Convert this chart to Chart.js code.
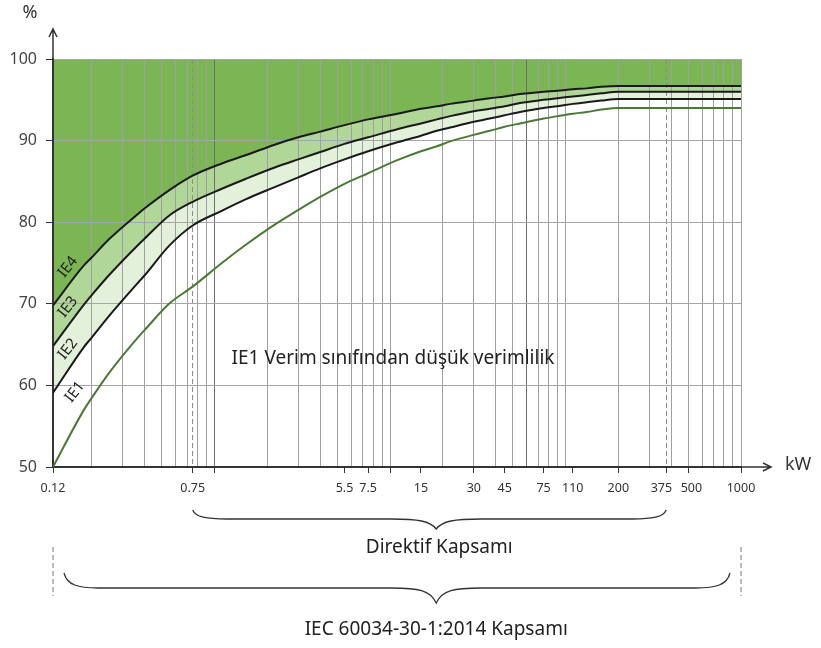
<!DOCTYPE html>
<html>
<head>
<meta charset="utf-8">
<script src="https://cdn.jsdelivr.net/npm/chart.js@4.4.0/dist/chart.umd.min.js"></script>
<style>
  html, body { margin: 0; padding: 0; background: #fff; }
  #wrap { width: 821px; height: 648px; }
</style>
</head>
<body>
<div id="wrap"><canvas id="effChart" width="821" height="648"></canvas></div>
<script>
// rated output (kW) and efficiency limits (%) per class
const kw  = [0.12, 0.18, 0.2, 0.25, 0.37, 0.4, 0.55, 0.75, 1.1, 1.5, 2.2, 3, 4, 5.5, 7.5, 11, 15, 18.5, 22, 30, 37, 45, 55, 75, 90, 110, 132, 160, 200, 1000];
const ie1 = [50.0, 57.0, 58.5, 61.5, 66.0, 66.8, 70.0, 72.1, 75.0, 77.2, 79.7, 81.5, 83.1, 84.7, 86.0, 87.6, 88.7, 89.3, 89.9, 90.7, 91.2, 91.7, 92.1, 92.7, 93.0, 93.3, 93.5, 93.8, 94.0, 94.0];
const ie2 = [59.1, 64.7, 65.9, 68.5, 72.7, 73.5, 77.1, 79.6, 81.4, 82.8, 84.3, 85.5, 86.6, 87.7, 88.7, 89.8, 90.6, 91.2, 91.6, 92.3, 92.7, 93.1, 93.5, 94.0, 94.2, 94.5, 94.7, 94.9, 95.1, 95.1];
const ie3 = [64.8, 69.9, 71.1, 73.5, 77.3, 78.0, 80.8, 82.5, 84.1, 85.3, 86.7, 87.7, 88.6, 89.6, 90.4, 91.4, 92.1, 92.6, 93.0, 93.6, 93.9, 94.2, 94.6, 95.0, 95.2, 95.4, 95.6, 95.8, 96.0, 96.0];
const ie4 = [69.8, 74.7, 75.7, 77.9, 81.1, 81.7, 83.9, 85.7, 87.2, 88.2, 89.5, 90.4, 91.1, 91.9, 92.6, 93.3, 93.9, 94.2, 94.5, 94.9, 95.2, 95.4, 95.7, 96.0, 96.1, 96.3, 96.4, 96.6, 96.7, 96.7];

// x axis: labelled ticks, log grid lines, dashed scope limits
const tickLabels = [0.12, 0.75, 5.5, 7.5, 15, 30, 45, 75, 110, 200, 375, 500, 1000];
const gridValues = [0.2, 0.3, 0.4, 0.5, 0.6, 0.7, 0.8, 0.9, 1, 2, 3, 4, 5, 6, 7, 8, 9, 10,
                    20, 30, 40, 50, 60, 70, 80, 90, 100, 200, 300, 400, 500, 600, 700, 800, 900, 1000];
const dashedValues = [0.75, 375];
const darkGrid = [1, 60];
const markOnly = [1, 10];

const classNames = ['IE4', 'IE3', 'IE2', 'IE1'];
const noteText = 'IE1 Verim sınıfından düşük verimlilik';
const directiveText = 'Direktif Kapsamı';
const standardText = 'IEC 60034-30-1:2014 Kapsamı';

const FONT = '"Noto Sans", "Open Sans", sans-serif';

function pts(vals) {
    return kw.map((k, i) => ({ x: k, y: vals[i] }));
}

const allTicks = Array.from(new Set([...gridValues, ...tickLabels, ...dashedValues])).sort((a, b) => a - b);

function tickText(v) {
    if (!tickLabels.includes(v)) return '';
    // 375 and 500 sit close together, nudge them apart
    if (v === 375) return '375   ';
    if (v === 500) return '  500';
    return String(v);
}

function brace(ctx, x1, x2, xm, y0, h, p) {
    ctx.beginPath();
    ctx.moveTo(x1, y0);
    ctx.bezierCurveTo(x1 + 3, y0 + h * 0.8, x1 + 14, y0 + h, x1 + 34, y0 + h);
    ctx.lineTo(xm - 45, y0 + h);
    ctx.bezierCurveTo(xm - 18, y0 + h, xm - 6, y0 + h + 2, xm, y0 + h + p);
    ctx.bezierCurveTo(xm + 6, y0 + h + 2, xm + 18, y0 + h, xm + 45, y0 + h);
    ctx.lineTo(x2 - 34, y0 + h);
    ctx.bezierCurveTo(x2 - 14, y0 + h, x2 - 3, y0 + h * 0.8, x2, y0);
    ctx.stroke();
}

const extras = {
    id: 'extras',
    afterUpdate(chart) {
        // fills are painted before the grid, so every curve needs its control points ready first
        chart.getSortedVisibleDatasetMetas().forEach(m => {
            if (m.dataset) m.dataset.updateControlPoints(chart.chartArea, 'x');
        });
    },
    afterDraw(chart) {
        const ctx = chart.ctx;
        const area = chart.chartArea;
        const xs = chart.scales.x;
        const ys = chart.scales.y;
        ctx.save();

        // axis arrows
        ctx.strokeStyle = '#333';
        ctx.fillStyle = '#333';
        ctx.lineWidth = 1.5;
        ctx.beginPath();
        ctx.moveTo(area.right, area.bottom);
        ctx.lineTo(area.right + 30, area.bottom);
        ctx.moveTo(area.right + 22, area.bottom - 4);
        ctx.lineTo(area.right + 30, area.bottom);
        ctx.lineTo(area.right + 22, area.bottom + 4);
        ctx.moveTo(area.left, area.top);
        ctx.lineTo(area.left, area.top - 30);
        ctx.moveTo(area.left - 4, area.top - 22);
        ctx.lineTo(area.left, area.top - 30);
        ctx.lineTo(area.left + 4, area.top - 22);
        ctx.stroke();

        ctx.font = '18px ' + FONT;
        ctx.fillStyle = '#333';
        ctx.textBaseline = 'middle';
        ctx.textAlign = 'left';
        ctx.fillText('kW', area.right + 44, area.bottom - 2);
        ctx.textAlign = 'center';
        ctx.fillText('%', area.left - 23, area.top - 46);

        // note inside chart
        ctx.font = '19px ' + FONT;
        ctx.fillStyle = '#222';
        ctx.fillText(noteText, xs.getPixelForValue(10.4), ys.getPixelForValue(63.3));

        // class labels along curves
        ctx.font = '15px ' + FONT;
        const lbl = [[68, 267], [68, 307], [68, 349], [75, 392]];
        classNames.forEach((name, i) => {
            ctx.save();
            ctx.translate(lbl[i][0], lbl[i][1]);
            ctx.rotate(-52 * Math.PI / 180);
            ctx.fillText(name, 0, 0);
            ctx.restore();
        });

        // scope braces
        const xm = area.left + (area.right - area.left) * 0.557;
        ctx.strokeStyle = '#333';
        ctx.lineWidth = 1.3;
        brace(ctx, xs.getPixelForValue(0.75), xs.getPixelForValue(375), xm, area.bottom + 43, 9, 10);
        brace(ctx, area.left + 11, area.right - 11, xm, area.bottom + 106, 15, 15);

        ctx.strokeStyle = '#999';
        ctx.setLineDash([5, 3]);
        ctx.lineWidth = 1.3;
        ctx.beginPath();
        ctx.moveTo(area.left, area.bottom + 80);
        ctx.lineTo(area.left, area.bottom + 129);
        ctx.moveTo(area.right, area.bottom + 80);
        ctx.lineTo(area.right, area.bottom + 129);
        ctx.stroke();
        ctx.setLineDash([]);

        ctx.font = '19px ' + FONT;
        ctx.fillStyle = '#222';
        ctx.fillText(directiveText, xm + 3, area.bottom + 81);
        ctx.fillText(standardText, xm, area.bottom + 163);
        ctx.restore();
    }
};

new Chart(document.getElementById('effChart'), {
    type: 'line',
    data: {
        // IE1 first so no fill ever targets dataset 0
        datasets: [{
            label: 'IE1',
            data: pts(ie1),
            borderColor: '#4b7a36',
            borderWidth: 2,
            fill: false
        }, {
            label: 'IE2',
            data: pts(ie2),
            borderColor: '#1a1a1a',
            backgroundColor: '#e3f0da',
            borderWidth: 2,
            fill: '+1'
        }, {
            label: 'IE3',
            data: pts(ie3),
            borderColor: '#1a1a1a',
            backgroundColor: '#b0d698',
            borderWidth: 2,
            fill: '+1'
        }, {
            label: 'IE4',
            data: pts(ie4),
            borderColor: '#1a1a1a',
            backgroundColor: '#7cb654',
            borderWidth: 2,
            fill: 'end'
        }]
    },
    options: {
        responsive: false,
        animation: false,
        layout: { padding: { top: 59, right: 80, left: 0, bottom: 0 } },
        elements: { point: { radius: 0 }, line: { cubicInterpolationMode: 'monotone' } },
        plugins: {
            legend: { display: false },
            tooltip: { enabled: false },
            filler: { drawTime: 'beforeDraw' }
        },
        scales: {
            x: {
                type: 'logarithmic',
                min: 0.12,
                max: 1000,
                afterFit: s => { s.height = 181; },
                afterBuildTicks: s => { s.ticks = allTicks.map(v => ({ value: v })); },
                grid: {
                    color: c => {
                        const v = c.tick ? c.tick.value : null;
                        if (dashedValues.includes(v)) return '#8c8c8c';
                        if (darkGrid.includes(v)) return '#6e6e6e';
                        return gridValues.includes(v) ? '#a0a0a0' : 'rgba(0,0,0,0)';
                    },
                    lineWidth: 1,
                    tickLength: 6,
                    tickColor: c => {
                        const v = c.tick ? c.tick.value : null;
                        return (tickLabels.includes(v) || markOnly.includes(v)) ? '#333' : 'rgba(0,0,0,0)';
                    }
                },
                border: {
                    color: '#333',
                    width: 2,
                    dash: c => (c.tick && dashedValues.includes(c.tick.value)) ? [5, 3] : []
                },
                ticks: {
                    autoSkip: false,
                    maxRotation: 0,
                    padding: 8,
                    color: '#333',
                    font: { family: FONT, size: 12.5 },
                    callback: v => tickText(v)
                }
            },
            y: {
                min: 50,
                max: 100,
                afterFit: s => { s.width = 53; },
                grid: { color: '#a6a6a6', lineWidth: 1, tickLength: 7, tickColor: '#333' },
                border: { color: '#333', width: 2 },
                ticks: {
                    stepSize: 10,
                    padding: 9,
                    color: '#444',
                    font: { family: FONT, size: 16 }
                }
            }
        }
    },
    plugins: [extras]
});
</script>
</body>
</html>
